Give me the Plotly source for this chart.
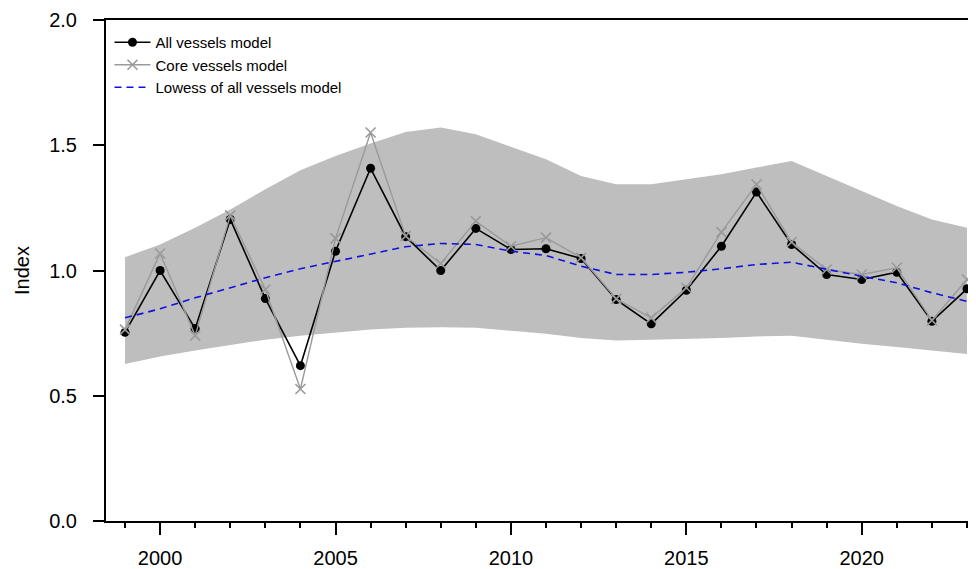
import plotly.graph_objects as go

years = list(range(1999, 2024))
all_vessels = [0.753, 1.000, 0.768, 1.204, 0.888, 0.620, 1.077, 1.408, 1.135, 1.000,
               1.168, 1.084, 1.087, 1.048, 0.884, 0.787, 0.921, 1.097, 1.313, 1.104,
               0.984, 0.964, 0.993, 0.797, 0.927]
core_vessels = [0.764, 1.068, 0.740, 1.220, 0.924, 0.527, 1.128, 1.551, 1.137, 1.028,
                1.197, 1.097, 1.131, 1.051, 0.887, 0.811, 0.931, 1.153, 1.344, 1.113,
                1.004, 0.984, 1.011, 0.801, 0.964]
lowess = [0.811, 0.847, 0.891, 0.931, 0.971, 1.007, 1.037, 1.068, 1.095, 1.108,
          1.104, 1.077, 1.060, 1.017, 0.984, 0.984, 0.993, 1.007, 1.024, 1.033,
          1.004, 0.977, 0.951, 0.911, 0.877]
upper = [1.053, 1.104, 1.171, 1.244, 1.324, 1.400, 1.457, 1.507, 1.553, 1.571,
         1.544, 1.495, 1.444, 1.377, 1.344, 1.344, 1.364, 1.384, 1.411, 1.437,
         1.377, 1.317, 1.257, 1.204, 1.171]
lower = [0.627, 0.657, 0.681, 0.704, 0.724, 0.740, 0.753, 0.764, 0.771, 0.773,
         0.771, 0.761, 0.748, 0.731, 0.721, 0.724, 0.727, 0.731, 0.737, 0.740,
         0.724, 0.708, 0.695, 0.681, 0.667]
y_ticks = [0.0, 0.5, 1.0, 1.5, 2.0]
x_ticks = [2000, 2005, 2010, 2015, 2020]

FONT = "Liberation Sans, Arial, sans-serif"
BAND = "#BEBEBE"

fig = go.Figure()

# confidence band
fig.add_trace(go.Scatter(x=years, y=upper, mode="lines", line=dict(width=0, color=BAND),
                         showlegend=False, hoverinfo="skip"))
fig.add_trace(go.Scatter(x=years, y=lower, mode="lines", line=dict(width=0, color=BAND),
                         fill="tonexty", fillcolor=BAND, showlegend=False, hoverinfo="skip"))

fig.add_trace(go.Scatter(x=years, y=all_vessels, mode="lines+markers", name="All vessels model",
                         line=dict(color="black", width=1.6),
                         marker=dict(symbol="circle", size=9, color="black")))
fig.add_trace(go.Scatter(x=years, y=core_vessels, mode="lines+markers", name="Core vessels model",
                         line=dict(color="#9A9A9A", width=1.4),
                         marker=dict(symbol="x-thin", size=10, color="#9A9A9A",
                                     line=dict(color="#9A9A9A", width=1.6))))
fig.add_trace(go.Scatter(x=years, y=lowess, mode="lines", name="Lowess of all vessels model",
                         line=dict(color="#1010E0", width=1.6, dash="7px,5px")))

# the page body adds an 8px offset, so the figure is 8px smaller than the window
fig.update_layout(
    width=968, height=561,
    margin=dict(l=98, r=0, t=12, b=48, autoexpand=False),
    paper_bgcolor="white", plot_bgcolor="white",
    font=dict(family=FONT, color="black", size=20),
    showlegend=True,
    legend=dict(x=0.004, y=0.988, xanchor="left", yanchor="top", traceorder="normal",
                bgcolor="rgba(0,0,0,0)", font=dict(size=15, family=FONT),
                tracegroupgap=0, itemwidth=36),
    xaxis=dict(range=[1998.458, 2023.257], showgrid=False, zeroline=False, automargin=False,
               showline=True, linecolor="black", linewidth=2, mirror=True,
               tickmode="array", tickvals=x_ticks, ticktext=[str(t) for t in x_ticks],
               ticks="outside", ticklen=12, tickwidth=1.5, tickcolor="black",
               ticklabelstandoff=6,
               minor=dict(dtick=1, tick0=1999, ticks="outside", ticklen=5,
                          tickwidth=1.5, tickcolor="black", showgrid=False)),
    yaxis=dict(range=[0, 2], showgrid=False, zeroline=False, automargin=False,
               showline=True, linecolor="black", linewidth=2, mirror=False,
               tickmode="array", tickvals=y_ticks, ticktext=[f"{t:.1f}" for t in y_ticks],
               ticks="outside", ticklen=11, tickwidth=1.5, tickcolor="black",
               ticklabelstandoff=12,
               title=dict(text="Index", standoff=14, font=dict(size=20))),
)

fig.write_html("out.html")
